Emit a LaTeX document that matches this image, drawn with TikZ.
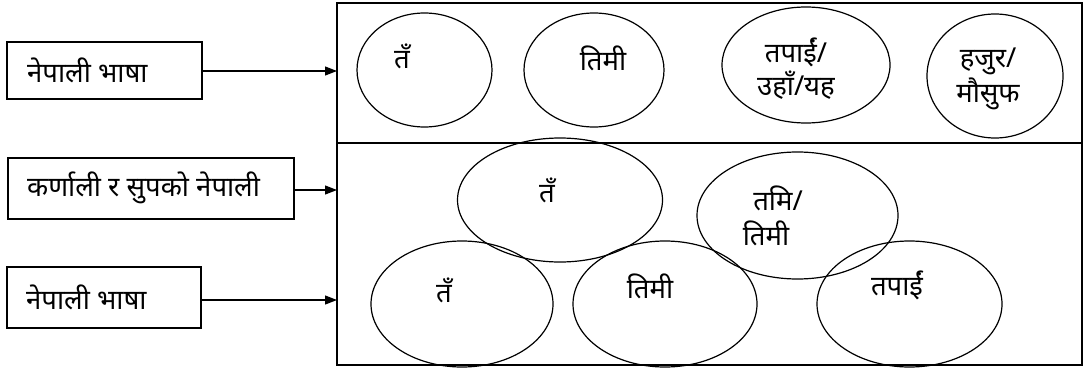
\documentclass[tikz,border=0pt]{standalone}
\usepackage{fontspec}
\newfontfamily\deva[Script=Devanagari]{Noto Sans}
\usetikzlibrary{shapes.geometric,arrows.meta}
\begin{document}
\begin{tikzpicture}[x=1pt,y=-1pt,
  lbox/.style={draw,line width=1.4pt,inner sep=0pt},
  oval/.style={draw,ellipse,line width=1.2pt,inner sep=0pt},
  txt/.style={font=\deva\fontsize{27.5}{33}\selectfont,inner sep=0pt,anchor=center},
  arr/.style={line width=1.2pt,-{Triangle[length=12pt,width=9pt]}}]
\useasboundingbox (0,0) rectangle (1086,369);
% left boxes
\node[lbox,minimum width=195pt,minimum height=57pt] (b1) at (104.5,70.5) {};
\node[txt,anchor=west] (t1) at (27,70) {नेपाली भाषा};
\node[lbox,minimum width=286pt,minimum height=61pt] (b2) at (151,188.5) {};
\node[txt,anchor=west] (t2) at (27,188) {कर्णाली र सुपको नेपाली};
\node[lbox,minimum width=194pt,minimum height=61pt] (b3) at (104,297.5) {};
\node[txt,anchor=west] (t3) at (26,297) {नेपाली भाषा};
% big frame
\node[draw,line width=1.8pt,minimum width=745pt,minimum height=140pt,inner sep=0pt] (top) at (709.5,73) {};
\node[draw,line width=1.8pt,minimum width=745pt,minimum height=222pt,inner sep=0pt] (bot) at (709.5,254) {};
% arrows
\coordinate (a1) at (337,71);
\coordinate (a2) at (337,190);
\coordinate (a3) at (337,300);
\draw[arr] (b1.east |- a1) -- (a1);
\draw[arr] (b2.east |- a2) -- (a2);
\draw[arr] (b3.east |- a3) -- (a3);
% top ellipses
\node[oval,minimum width=135pt,minimum height=114pt] (e1) at (424.5,70) {};
\node[txt] (l1) at (402,56) {तँ};
\node[oval,minimum width=140pt,minimum height=114pt] (e2) at (594,70) {};
\node[txt] (l2) at (603,58) {तिमी};
\node[oval,minimum width=168pt,minimum height=116pt] (e3) at (806,65) {};
\node[txt] (l3a) at (796,52) {तपाईं/};
\node[txt] (l3b) at (796,85) {उहाँ/यह};
\node[oval,minimum width=136pt,minimum height=124pt] (e4) at (995,76) {};
\node[txt] (l4a) at (988,61) {हजुर/};
\node[txt] (l4b) at (988,94) {मौसुफ};
% bottom ellipses
\node[oval,minimum width=205pt,minimum height=124pt] (e5) at (560,200) {};
\node[txt] (l5) at (547,190) {तँ};
\node[oval,minimum width=182pt,minimum height=126pt] (e6) at (462,304) {};
\node[txt] (l6) at (444,290) {तँ};
\node[oval,minimum width=184pt,minimum height=126pt] (e7) at (665,304) {};
\node[txt] (l7) at (650,286) {तिमी};
\node[oval,minimum width=201pt,minimum height=127pt] (e8) at (797.5,215.5) {};
\node[txt] (l8a) at (778,198) {तमि/};
\node[txt] (l8b) at (766,233) {तिमी};
\node[oval,minimum width=185pt,minimum height=126pt] (e9) at (909.5,304) {};
\node[txt] (l9) at (897,285) {तपाईं};
\end{tikzpicture}
\end{document}
